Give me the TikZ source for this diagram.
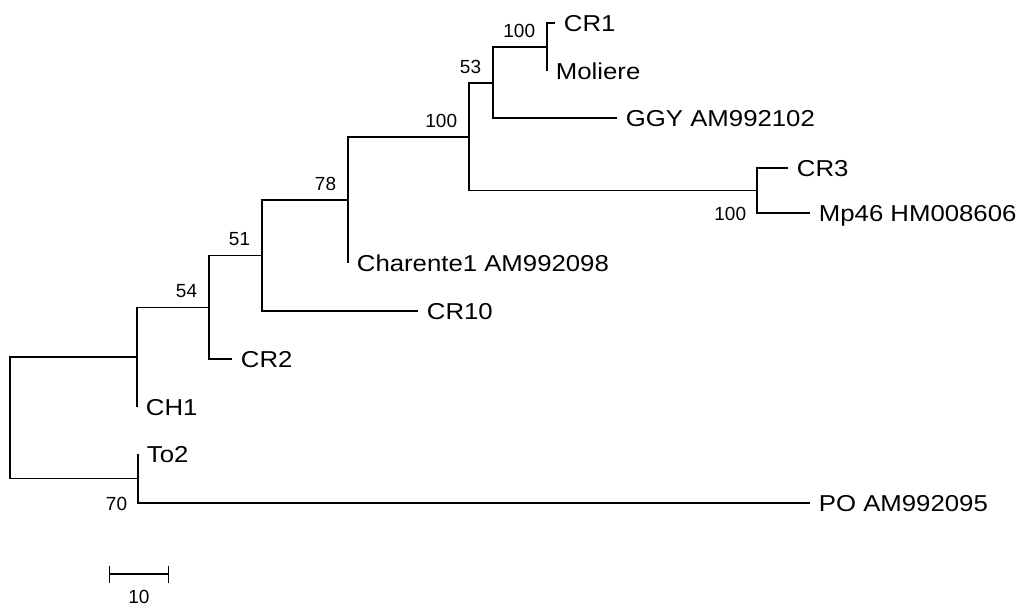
\documentclass[tikz,border=0pt]{standalone}
\usepackage{fontspec}
\setmainfont{Liberation Sans}
\newfontfamily\leaffont[FakeStretch=1.12]{Liberation Sans}
\usetikzlibrary{arrows.meta}
\tikzset{
  leaf/.style={anchor=base west, inner sep=0pt, xshift=8pt, yshift=-8pt,
    font=\leaffont\fontsize{23}{27}\selectfont},
  boot/.style={anchor=base east, inner sep=0pt, xshift=-11pt, yshift=10pt,
    font=\fontsize{19}{22}\selectfont},
  bootlow/.style={anchor=base east, inner sep=0pt, xshift=-10pt, yshift=-7pt,
    font=\fontsize{19}{22}\selectfont}
}
\begin{document}
\begin{tikzpicture}[x=1pt,y=-1pt,line width=1.8pt]
      \useasboundingbox (0,0) rectangle (1019,608);
      % internal nodes
      \path
        (10,418) coordinate (root)
        (137,357) coordinate (n1)
        (209,307.5) coordinate (n54)
        (262,255.5) coordinate (n51)
        (348,200) coordinate (n78)
        (469,137) coordinate (n100a)
        (493,83) coordinate (n53)
        (547,47) coordinate (n100b)
        (757,190.5) coordinate (n100c)
        (138,478.5) coordinate (n70);
      % leaves
      \path
        (555,23) coordinate (tcr1) node[leaf] (cr1){CR1}
        (547,71) coordinate (tmol) node[leaf] (mol){Moliere}
        (617,118) coordinate (tggy) node[leaf] (ggy){GGY AM992102}
        (788,168) coordinate (tcr3) node[leaf] (cr3){CR3}
        (810,213) coordinate (tmp46) node[leaf] (mp46){Mp46 HM008606}
        (348,263) coordinate (tchar) node[leaf] (char){Charente1 AM992098}
        (418,311) coordinate (tcr10) node[leaf] (cr10){CR10}
        (232,359) coordinate (tcr2) node[leaf] (cr2){CR2}
        (137,407) coordinate (tch1) node[leaf] (ch1){CH1}
        (138,454) coordinate (tto2) node[leaf] (to2){To2}
        (810,503) coordinate (tpo) node[leaf] (po){PO AM992095};
      \begin{scope}[-]
        \draw (root) |- (n1);
        \draw (root) |- (n70);
        \draw (n1) |- (tch1);
        \draw (n1) |- (n54);
        \draw (n54) |- (n51);
        \draw (n54) |- (tcr2);
        \draw (n51) |- (n78);
        \draw (n51) |- (tcr10);
        \draw (n78) |- (n100a);
        \draw (n78) |- (tchar);
        \draw (n100a) |- (n53);
        \draw (n100a) |- (n100c);
        \draw (n53) |- (n100b);
        \draw (n53) |- (tggy);
        \draw (n100b) |- (tcr1);
        \draw (n100b) |- (tmol);
        \draw (n100c) |- (tcr3);
        \draw (n100c) |- (tmp46);
        \draw (n70) |- (tto2);
        \draw (n70) |- (tpo);
      \end{scope}
      % bootstrap values
      \node[boot] (b100b) at (n100b) {100};
      \node[boot] (b53) at (n53) {53};
      \node[boot] (b100a) at (n100a) {100};
      \node[boot] (b78) at (n78) {78};
      \node[boot] (b51) at (n51) {51};
      \node[boot] (b54) at (n54) {54};
      \node[bootlow] (b100c) at (n100c |- tmp46) {100};
      \node[bootlow] (b70) at (n70 |- tpo) {70};
      % scale bar
      \coordinate (sbl) at (109,574);
      \coordinate (sbr) at (169,574);
      \draw[line width=1.4pt, {Bar[width=17pt]}-{Bar[width=17pt]}] (sbl) -- (sbr);
      \node[inner sep=0pt, font=\fontsize{19}{22}\selectfont] (sblab) at (139,597) {10};
    \end{tikzpicture}
\end{document}
